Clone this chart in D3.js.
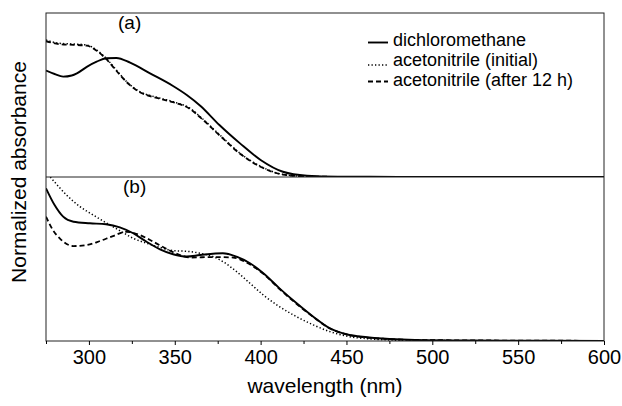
<!DOCTYPE html>
<html>
<head>
<meta charset="utf-8">
<script src="https://cdn.jsdelivr.net/npm/d3@7"></script>
<style>
  body { margin: 0; background: #fff; }
  text { font-family: "Liberation Sans", Arial, sans-serif; fill: #000; }
</style>
</head>
<body>
<script>
// x axis ticks
const xTicks = [300, 350, 400, 450, 500, 550, 600];
const xMinorTicks = [275, 325, 375, 425, 475, 525, 575];

// legend labels
const seriesNames = ['dichloromethane', 'acetonitrile (initial)', 'acetonitrile (after 12 h)'];

// panel (a), normalized absorbance
const dcmA_nm  = [275, 280, 285, 290, 293, 299, 304.5, 310, 316, 324, 335.6, 349, 357, 365, 376, 388, 400, 413, 427, 445, 480, 600];
const dcmA_abs = [0.649, 0.628, 0.612, 0.619, 0.632, 0.673, 0.703, 0.724, 0.726, 0.697, 0.632, 0.555, 0.500, 0.433, 0.317, 0.205, 0.104, 0.032, 0.008, 0.002, 0.001, 0];

const mecnA_nm  = [275, 283, 291, 298.7, 304.5, 310, 316, 322, 329.7, 339.5, 349, 358.9, 365, 376.3, 388, 399.6, 413, 427, 445, 480, 600];
const mecnA_abs = [0.835, 0.815, 0.811, 0.805, 0.774, 0.724, 0.652, 0.581, 0.520, 0.486, 0.459, 0.419, 0.366, 0.256, 0.145, 0.067, 0.016, 0.003, 0.001, 0, 0];

const mecn12A_nm  = [275, 283, 291, 298.7, 304.5, 310, 316, 322, 329.7, 339.5, 349, 358.9, 365, 376.3, 388, 399.6, 413, 427, 445, 480, 600];
const mecn12A_abs = [0.828, 0.810, 0.806, 0.801, 0.770, 0.720, 0.648, 0.578, 0.517, 0.482, 0.456, 0.415, 0.362, 0.252, 0.142, 0.064, 0.015, 0.003, 0.001, 0, 0];

// panel (b), normalized absorbance
const dcmB_nm  = [275, 280, 285, 291, 300.6, 310, 318, 325.8, 333.6, 341.4, 349, 357, 364.7, 378, 386, 393.8, 401.6, 411, 421, 430.7, 440.4, 450, 462, 475, 490, 520, 600];
const dcmB_abs = [0.931, 0.829, 0.758, 0.727, 0.718, 0.712, 0.693, 0.657, 0.605, 0.559, 0.529, 0.515, 0.524, 0.535, 0.514, 0.474, 0.413, 0.321, 0.230, 0.148, 0.077, 0.041, 0.023, 0.012, 0.006, 0.003, 0.001];

const mecnB_nm  = [277.5, 287, 294.8, 302.5, 310, 318, 325.8, 333.6, 341.4, 349, 357, 364.7, 372.4, 378, 386, 393.8, 401.6, 411, 421, 430.7, 440.4, 450, 465, 480, 520, 600];
const mecnB_abs = [1.0, 0.890, 0.819, 0.768, 0.721, 0.673, 0.626, 0.596, 0.571, 0.551, 0.547, 0.535, 0.514, 0.484, 0.423, 0.352, 0.280, 0.209, 0.148, 0.098, 0.057, 0.030, 0.012, 0.005, 0.002, 0.001];

const mecn12B_nm  = [275, 279, 283, 291, 298.7, 306.5, 314, 322, 329.7, 337.5, 345.3, 353, 359, 372.4, 384, 392, 401.6, 411, 421, 430.7, 440.4, 450, 462, 475, 490, 600];
const mecn12B_abs = [0.758, 0.677, 0.626, 0.579, 0.585, 0.610, 0.640, 0.666, 0.646, 0.605, 0.561, 0.524, 0.509, 0.512, 0.509, 0.477, 0.409, 0.317, 0.226, 0.146, 0.076, 0.040, 0.021, 0.012, 0.006, 0.001];

const WIDTH = 622;
const HEIGHT = 406;
const MARGIN = {top: 13, bottom: 65, left: 46, right: 18};
const PANEL_H = (HEIGHT - MARGIN.top - MARGIN.bottom) / 2;

// solid, dotted, dashed
const STYLES = [
  {dash: null, width: 1.9},
  {dash: '1.3,2.2', width: 1.5},
  {dash: '5,3', width: 1.8}
];

const SVG = d3.select('body')
              .append('svg')
              .attr('width', WIDTH)
              .attr('height', HEIGHT);

const xScale = d3.scaleLinear()
                 .domain([275, 600])
                 .range([MARGIN.left, WIDTH - MARGIN.right]);

const panels = [
  {name: '(a)', top: MARGIN.top, labelX: 118, series: [[dcmA_nm, dcmA_abs], [mecnA_nm, mecnA_abs], [mecn12A_nm, mecn12A_abs]]},
  {name: '(b)', top: MARGIN.top + PANEL_H, labelX: 123, series: [[dcmB_nm, dcmB_abs], [mecnB_nm, mecnB_abs], [mecn12B_nm, mecn12B_abs]]}
];

panels.forEach(function(p, k) {
  const yScale = d3.scaleLinear()
                   .domain([0, 1])
                   .range([p.top + PANEL_H, p.top]);

  SVG.append('clipPath')
     .attr('id', 'clip' + k)
     .append('rect')
     .attr('x', MARGIN.left)
     .attr('y', p.top)
     .attr('width', WIDTH - MARGIN.left - MARGIN.right)
     .attr('height', PANEL_H);

  const line = d3.line()
                 .x(d => xScale(d[0]))
                 .y(d => yScale(d[1]))
                 .curve(d3.curveMonotoneX);

  p.series.forEach(function(s, i) {
    const pts = s[0].map((x, j) => [x, s[1][j]]);
    SVG.append('path')
       .datum(pts)
       .attr('clip-path', 'url(#clip' + k + ')')
       .attr('fill', 'none')
       .attr('stroke', '#000')
       .attr('stroke-width', STYLES[i].width)
       .attr('stroke-dasharray', STYLES[i].dash)
       .attr('d', line);
  });

  SVG.append('text')
     .attr('x', p.labelX)
     .attr('y', p.top + 15.5)
     .style('font-size', '19px')
     .text(p.name);
});

// frame and panel divider
SVG.append('rect')
   .attr('x', MARGIN.left)
   .attr('y', MARGIN.top)
   .attr('width', WIDTH - MARGIN.left - MARGIN.right)
   .attr('height', HEIGHT - MARGIN.top - MARGIN.bottom)
   .attr('fill', 'none')
   .attr('stroke', '#222')
   .attr('stroke-width', 1);

SVG.append('line')
   .attr('x1', MARGIN.left)
   .attr('x2', WIDTH - MARGIN.right)
   .attr('y1', MARGIN.top + PANEL_H)
   .attr('y2', MARGIN.top + PANEL_H)
   .attr('stroke', '#222');

// x axis, major and minor ticks
const xAxis = d3.axisBottom(xScale).tickValues(xTicks).tickSize(4).tickPadding(5);
const xMinor = d3.axisBottom(xScale).tickValues(xMinorTicks).tickSize(3).tickFormat('');

const gx = SVG.append('g')
              .attr('transform', 'translate(0,' + (HEIGHT - MARGIN.bottom) + ')')
              .call(xAxis);
gx.select('.domain').remove();
gx.selectAll('text').style('font-size', '20px').attr('font-family', null);

const gm = SVG.append('g')
              .attr('transform', 'translate(0,' + (HEIGHT - MARGIN.bottom) + ')')
              .call(xMinor);
gm.select('.domain').remove();

// axis titles
SVG.append('text')
   .attr('x', (MARGIN.left + WIDTH - MARGIN.right) / 2)
   .attr('y', 393)
   .attr('text-anchor', 'middle')
   .style('font-size', '21px')
   .text('wavelength (nm)');

SVG.append('text')
   .attr('transform', 'translate(26,172) rotate(-90)')
   .attr('text-anchor', 'middle')
   .style('font-size', '21px')
   .text('Normalized absorbance');

// legend
const LEG_Y = [45.5, 65.5, 85.5];
const LEG_OFF = [3, 0.5, 4];
seriesNames.forEach(function(name, i) {
  SVG.append('line')
     .attr('x1', 368)
     .attr('x2', 388)
     .attr('y1', LEG_Y[i] - LEG_OFF[i])
     .attr('y2', LEG_Y[i] - LEG_OFF[i])
     .attr('stroke', '#000')
     .attr('stroke-width', STYLES[i].width)
     .attr('stroke-dasharray', STYLES[i].dash);
  SVG.append('text')
     .attr('x', 393)
     .attr('y', LEG_Y[i])
     .style('font-size', '18px')
     .text(name);
});
</script>
</body>
</html>
